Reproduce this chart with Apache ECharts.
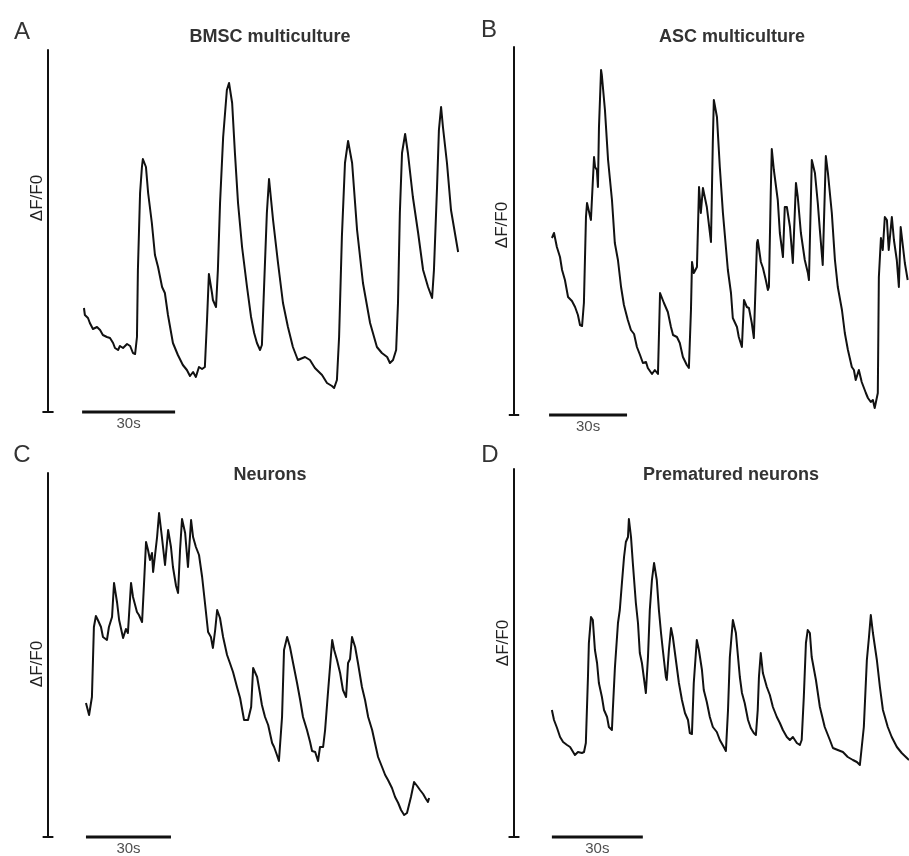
<!DOCTYPE html>
<html><head><meta charset="utf-8">
<script src="https://cdn.jsdelivr.net/npm/echarts@6/dist/echarts.min.js"></script>
<style>html,body{margin:0;padding:0;background:#fff}#c{width:909px;height:856px}</style>
</head><body><div id="c"></div><script>
// Panel texts
const titles = ['BMSC multiculture', 'ASC multiculture', 'Neurons', 'Prematured neurons'];
const letters = ['A', 'B', 'C', 'D'];
const yLabel = 'ΔF/F0';
const scaleLabel = '30s';

// Traces: [time (s), ΔF/F0]
const traceA = [[11.6,1.04],[11.9,0.97],[12.9,0.94],[13.5,0.89],[14.5,0.83],[15.8,0.85],[16.8,0.82],[17.7,0.77],[19.0,0.75],[20.0,0.74],
[21.0,0.69],[21.6,0.64],[22.6,0.62],[23.2,0.66],[24.2,0.64],[25.5,0.68],[26.5,0.66],[27.4,0.59],[28.1,0.58],[28.7,0.75],
[29.0,1.42],[29.7,2.19],[30.3,2.45],[30.6,2.53],[31.6,2.45],[32.3,2.19],[33.5,1.89],[34.5,1.57],[35.5,1.45],[36.8,1.25],
[37.7,1.19],[38.7,0.97],[40.3,0.69],[41.9,0.57],[43.5,0.47],[44.8,0.42],[45.8,0.36],[46.8,0.40],[47.7,0.35],[48.7,0.45],
[49.7,0.43],[50.6,0.45],[51.3,0.92],[51.9,1.38],[52.9,1.19],[53.2,1.12],[54.2,1.05],[54.8,1.42],[55.5,2.09],[56.5,2.75],
[57.7,3.22],[58.4,3.29],[59.4,3.09],[60.3,2.59],[61.3,2.09],[62.6,1.65],[64.2,1.25],[65.5,0.95],[66.5,0.79],[67.4,0.69],
[68.4,0.62],[69.0,0.67],[69.7,1.25],[70.6,1.99],[71.3,2.33],[72.6,1.92],[74.2,1.49],[75.8,1.09],[77.4,0.85],[79.0,0.65],
[80.6,0.52],[82.9,0.55],[84.5,0.52],[86.1,0.44],[88.4,0.37],[90.0,0.29],[91.6,0.26],[92.3,0.24],[93.2,0.32],[93.9,0.75],
[94.8,1.75],[95.8,2.49],[96.8,2.71],[98.1,2.49],[99.7,1.82],[101.6,1.29],[103.9,0.89],[106.1,0.65],[107.7,0.59],[109.4,0.55],
[110.3,0.49],[111.3,0.52],[112.3,0.62],[112.9,1.09],[113.5,1.99],[114.2,2.59],[115.2,2.78],[116.1,2.59],[117.7,2.15],[119.4,1.79],
[121.0,1.42],[122.6,1.25],[123.9,1.14],[124.5,1.42],[125.5,2.25],[126.1,2.82],[126.8,3.05],[127.4,2.85],[128.7,2.49],[130.0,2.02],
[132.3,1.60]];

const traceB = [[14.6,1.77],[15.4,1.82],[16.5,1.68],[17.7,1.58],[18.5,1.45],[19.6,1.35],[20.8,1.18],[22.3,1.14],[23.5,1.08],[24.6,1.00],
[25.4,0.90],[26.2,0.89],[26.9,1.12],[27.7,1.98],[28.1,2.12],[28.5,2.12],[29.6,1.95],[30.8,2.58],[31.2,2.48],[31.9,2.45],
[32.3,2.28],[32.7,2.88],[33.5,3.45],[33.8,3.40],[35.0,3.05],[36.2,2.55],[37.7,2.15],[38.8,1.72],[40.0,1.55],[41.2,1.28],
[42.3,1.10],[43.8,0.95],[45.0,0.85],[46.2,0.81],[47.3,0.68],[48.5,0.60],[49.6,0.52],[50.8,0.53],[51.5,0.47],[53.1,0.41],
[54.2,0.45],[55.4,0.41],[56.2,1.22],[56.9,1.20],[57.7,1.12],[59.2,1.03],[60.4,0.88],[61.2,0.80],[62.7,0.78],[63.8,0.72],
[65.0,0.58],[66.5,0.50],[67.3,0.47],[68.1,1.05],[68.5,1.53],[69.2,1.42],[70.4,1.48],[71.2,2.28],[71.9,2.02],[72.7,2.27],
[74.2,2.08],[75.8,1.73],[76.5,2.72],[76.9,3.15],[78.1,2.98],[79.2,2.48],[80.4,2.02],[82.3,1.45],[83.5,1.22],[84.2,0.97],
[85.8,0.88],[86.5,0.78],[87.7,0.68],[88.5,1.15],[89.6,1.08],[90.4,1.07],[91.5,0.92],[92.3,0.77],[93.5,1.72],[93.8,1.75],
[95.0,1.53],[95.8,1.47],[96.9,1.35],[97.7,1.25],[98.1,1.28],[98.8,2.22],[99.2,2.66],[100.0,2.45],[101.5,2.15],[102.3,1.82],
[103.5,1.58],[104.2,2.08],[105.0,2.08],[106.2,1.88],[107.3,1.52],[108.5,2.32],[109.2,2.18],[110.4,1.82],[111.9,1.55],[113.1,1.42],
[113.5,1.35],[114.6,2.55],[115.8,2.42],[116.9,2.12],[117.7,1.85],[118.8,1.50],[120.0,2.59],[120.8,2.42],[122.3,2.02],[123.5,1.55],
[124.6,1.28],[126.2,1.05],[127.3,0.82],[128.5,0.65],[130.0,0.48],[130.8,0.45],[131.5,0.35],[132.7,0.45],[133.1,0.43],[133.8,0.33],
[135.4,0.22],[136.2,0.17],[137.3,0.13],[138.1,0.15],[138.8,0.07],[140.0,0.22],[140.4,1.38],[141.2,1.77],[141.9,1.65],[142.7,1.98],
[143.5,1.95],[144.2,1.65],[145.4,1.98],[146.2,1.75],[147.3,1.55],[148.1,1.28],[148.8,1.88],[149.2,1.90],[150.4,1.52],[151.5,1.35]];

const traceC = [[13.4,1.34],[13.8,1.32],[14.5,1.22],[15.5,1.40],[16.2,2.10],[16.9,2.21],[17.6,2.17],[18.7,2.10],[19.4,2.00],[20.1,2.02],
[20.8,1.97],[21.5,2.10],[22.6,2.20],[23.3,2.54],[24.4,2.34],[25.1,2.17],[26.5,1.99],[27.5,2.08],[28.2,2.04],[29.3,2.54],
[30.0,2.40],[31.4,2.25],[32.1,2.22],[33.2,2.15],[33.9,2.54],[34.6,2.95],[35.3,2.87],[36.0,2.77],[36.7,2.84],[37.1,2.65],
[38.5,3.00],[39.2,3.24],[40.2,3.00],[41.3,2.72],[42.4,3.07],[43.4,2.90],[44.1,2.70],[45.2,2.51],[45.9,2.44],[46.6,2.87],
[47.3,3.18],[48.4,3.04],[49.4,2.70],[50.5,3.17],[51.2,3.00],[52.2,2.90],[53.3,2.82],[54.4,2.60],[55.4,2.34],[56.5,2.05],
[57.5,2.00],[58.2,1.89],[59.0,2.07],[59.7,2.27],[60.7,2.19],[61.8,2.00],[63.2,1.82],[64.2,1.74],[65.3,1.65],[66.7,1.50],
[67.8,1.39],[69.2,1.17],[70.6,1.17],[71.7,1.30],[72.4,1.69],[73.8,1.60],[74.8,1.44],[75.5,1.32],[76.6,1.20],[77.7,1.12],
[79.1,0.94],[79.8,0.90],[80.8,0.82],[81.5,0.76],[82.6,1.20],[83.3,1.87],[84.4,2.00],[85.4,1.90],[86.5,1.74],[87.9,1.54],
[89.0,1.37],[90.0,1.20],[91.4,1.07],[92.5,0.95],[93.2,0.86],[94.3,0.85],[95.3,0.76],[96.0,0.90],[97.1,0.90],[97.8,1.07],
[98.8,1.44],[100.3,1.97],[101.0,1.87],[102.0,1.77],[103.1,1.64],[104.1,1.47],[105.2,1.40],[105.9,1.74],[106.6,1.78],[107.3,2.00],
[108.4,1.90],[109.4,1.74],[110.8,1.50],[111.9,1.37],[113.0,1.20],[114.4,1.07],[115.4,0.94],[116.5,0.80],[117.9,0.70],[119.0,0.62],
[120.0,0.57],[121.4,0.49],[122.5,0.40],[123.6,0.34],[124.6,0.27],[125.7,0.22],[126.7,0.24],[127.4,0.25],[128.1,0.40],[129.2,0.55],
[130.3,0.51],[131.3,0.47],[132.4,0.43],[133.4,0.38],[134.1,0.35],[134.5,0.39]];

const traceD = [[12.5,1.27],[13.2,1.17],[14.2,1.09],[15.2,1.00],[16.2,0.95],[17.5,0.92],[18.5,0.90],[19.1,0.87],[20.1,0.82],[21.1,0.85],
[22.4,0.84],[23.1,0.85],[23.7,0.94],[24.4,1.60],[24.7,1.94],[25.4,2.20],[26.0,2.17],[26.7,1.87],[27.4,1.74],[28.0,1.54],
[29.0,1.40],[29.7,1.27],[30.7,1.20],[31.3,1.10],[32.3,1.07],[32.6,1.27],[33.3,1.70],[34.3,2.14],[34.9,2.27],[35.6,2.54],
[36.3,2.80],[36.9,2.95],[37.6,3.00],[37.9,3.18],[38.6,3.00],[39.2,2.74],[40.2,2.34],[40.9,2.14],[41.5,1.84],[42.2,1.74],
[43.5,1.44],[44.2,1.80],[44.8,2.27],[45.5,2.57],[46.2,2.74],[47.1,2.57],[47.8,2.27],[48.5,2.04],[49.1,1.87],[50.1,1.60],
[50.4,1.57],[51.1,1.87],[51.8,2.09],[52.4,2.00],[53.4,1.77],[54.4,1.54],[55.4,1.37],[56.4,1.24],[57.4,1.17],[58.0,1.04],
[58.7,1.03],[59.3,1.54],[60.3,1.97],[61.0,1.87],[62.0,1.67],[62.6,1.47],[63.6,1.35],[64.6,1.20],[65.6,1.10],[66.9,1.05],
[67.9,0.97],[69.2,0.90],[69.9,0.86],[70.6,1.27],[71.2,1.80],[72.2,2.17],[73.2,2.04],[73.9,1.80],[74.5,1.60],[75.2,1.44],
[76.1,1.34],[77.2,1.17],[78.1,1.09],[79.1,1.04],[79.8,1.02],[80.4,1.27],[80.8,1.60],[81.4,1.84],[82.1,1.64],[83.4,1.50],
[84.4,1.42],[85.4,1.30],[86.7,1.20],[87.7,1.14],[88.7,1.07],[90.0,1.00],[91.0,0.97],[92.0,1.00],[93.3,0.94],[94.3,0.92],
[94.9,0.97],[95.6,1.40],[96.3,1.94],[96.9,2.07],[97.6,2.04],[98.2,1.80],[99.6,1.57],[100.9,1.30],[102.5,1.10],[104.2,0.97],
[105.2,0.89],[106.8,0.87],[108.5,0.85],[110.1,0.80],[111.8,0.77],[113.1,0.75],[114.1,0.72],[114.7,0.74],[115.4,1.10],[116.4,1.77],
[117.1,2.00],[117.7,2.22],[118.4,2.04],[119.7,1.77],[120.7,1.50],[121.7,1.27],[123.3,1.10],[124.6,1.00],[126.3,0.90],[127.9,0.84],
[129.6,0.79],[130.3,0.77]];

// 30 s scale bars: [start, end] in seconds
const scaleBarA = [11.0, 41.0];
const scaleBarB = [13.5, 43.5];
const scaleBarC = [13.4, 43.4];
const scaleBarD = [12.5, 42.5];

// Axis ranges per panel (x in s, y in ΔF/F0)
const xMins = [-4, -4, -4, -4];
const xMaxes = [133, 152, 140, 130.3];
const yMaxes = [3.62, 3.68, 3.64, 3.68];

const FONT = "'Liberation Sans', Arial, Helvetica, sans-serif";

// Layout (pixels)
const layout = [
  {left: 35.6,  top: 50,  width: 424.7, height: 362, tick: 1.8, title: [270, 37],  letter: [22, 32],  ylab: [37, 198]},
  {left: 503.6, top: 47,  width: 405.6, height: 368, tick: 2.0, title: [732, 37],  letter: [489, 30], ylab: [502, 225]},
  {left: 36.67, top: 473, width: 408.0, height: 364, tick: 1.9, title: [270, 475], letter: [22, 455], ylab: [37, 664]},
  {left: 501.87,top: 469, width: 407.3, height: 368, tick: 1.8, title: [731, 475], letter: [490, 455], ylab: [503, 643]}
];

const traces = [traceA, traceB, traceC, traceD];
const bars = [scaleBarA, scaleBarB, scaleBarC, scaleBarD];

const grid = [], xAxis = [], yAxis = [], series = [], graphic = [];
layout.forEach((L, i) => {
  grid.push({left: L.left, top: L.top, width: L.width, height: L.height, containLabel: false});
  xAxis.push({type: 'value', gridIndex: i, min: xMins[i], max: xMaxes[i], show: false});
  yAxis.push({type: 'value', gridIndex: i, min: 0, max: yMaxes[i],
    axisLine: {show: true, onZero: true, lineStyle: {color: '#111', width: 2}},
    axisTick: {show: false}, axisLabel: {show: false}, splitLine: {show: false}});
  series.push({type: 'line', xAxisIndex: i, yAxisIndex: i, data: traces[i], symbol: 'none', smooth: false,
    lineStyle: {color: '#111', width: 2, join: 'round'}, clip: false, silent: true});
  const b = bars[i];
  series.push({type: 'line', xAxisIndex: i, yAxisIndex: i, data: [[b[0], 0], [b[1], 0]], symbol: 'none',
    lineStyle: {color: '#111', width: 3}, clip: false, silent: true});
  series.push({type: 'line', xAxisIndex: i, yAxisIndex: i, data: [[-L.tick, 0], [L.tick, 0]], symbol: 'none',
    lineStyle: {color: '#111', width: 2}, clip: false, silent: true});
  series.push({type: 'scatter', xAxisIndex: i, yAxisIndex: i, data: [[(b[0] + b[1]) / 2, 0]], symbolSize: 0.01,
    clip: false, silent: true,
    label: {show: true, formatter: scaleLabel, position: 'bottom', distance: 4, color: '#222', fontSize: 15, fontFamily: FONT}});
  graphic.push({type: 'text', x: L.title[0], y: L.title[1], silent: true,
    style: {text: titles[i], font: 'bold 18px ' + FONT, fill: '#333', align: 'center', verticalAlign: 'middle'}});
  graphic.push({type: 'text', x: L.letter[0], y: L.letter[1], silent: true,
    style: {text: letters[i], font: '24px ' + FONT, fill: '#333', align: 'center', verticalAlign: 'middle'}});
  graphic.push({type: 'text', x: L.ylab[0], y: L.ylab[1], rotation: Math.PI / 2, silent: true,
    style: {text: yLabel, font: '17px ' + FONT, fill: '#222', align: 'center', verticalAlign: 'middle'}});
});

const chart = echarts.init(document.getElementById('c'), null, {renderer: 'canvas'});
chart.setOption({animation: false, backgroundColor: '#fff', grid, xAxis, yAxis, series, graphic});
</script></body></html>
